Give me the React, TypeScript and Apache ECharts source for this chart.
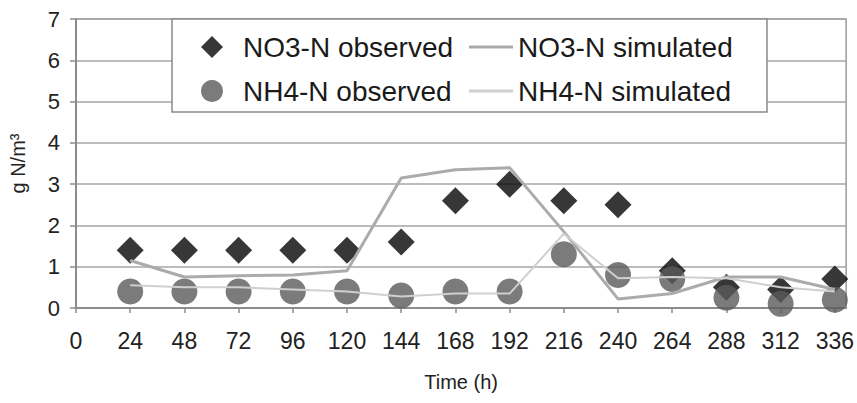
import React, { useEffect, useRef } from "react";
import * as echarts from "echarts";

const hours = [24, 48, 72, 96, 120, 144, 168, 192, 216, 240, 264, 288, 312, 336];
const no3Observed = [1.4, 1.4, 1.4, 1.4, 1.4, 1.6, 2.6, 3.0, 2.6, 2.5, 0.9, 0.5, 0.45, 0.7];
const nh4Observed = [0.4, 0.4, 0.4, 0.4, 0.4, 0.3, 0.4, 0.4, 1.3, 0.8, 0.7, 0.25, 0.1, 0.2];
const no3Simulated = [1.15, 0.75, 0.78, 0.8, 0.9, 3.15, 3.35, 3.4, 1.85, 0.22, 0.35, 0.75, 0.75, 0.45];
const nh4Simulated = [0.55, 0.5, 0.5, 0.45, 0.4, 0.28, 0.35, 0.35, 1.8, 0.72, 0.75, 0.72, 0.5, 0.4];
const seriesNames = ["NO3-N observed", "NO3-N simulated", "NH4-N observed", "NH4-N simulated"];

const FONT = "'Liberation Sans', Arial, sans-serif";

const pairs = (vals: number[]) => hours.map((h, i) => [h, vals[i]]);

export default function App() {
  const ref = useRef<HTMLDivElement>(null);
  useEffect(() => {
    if (!ref.current) return;
    const chart = echarts.init(ref.current, null, { renderer: "svg" });
    chart.setOption({
      animation: false,
      backgroundColor: "#ffffff",
      grid: {
        left: 74,
        right: 10,
        top: 19,
        bottom: 95,
        show: true,
        borderColor: "#9a9a9a",
        borderWidth: 1.5,
      },
      graphic: [
        {
          type: "rect",
          z: 3,
          shape: { x: 172, y: 19, width: 595, height: 93 },
          style: { fill: "#ffffff", stroke: "#8a8a8a", lineWidth: 1.5 },
        },
      ],
      legend: [
        {
          orient: "vertical",
          left: 196,
          top: 28,
          itemWidth: 22,
          itemHeight: 22,
          itemGap: 16,
          data: [
            { name: seriesNames[0], icon: "diamond" },
            { name: seriesNames[2], icon: "circle" },
          ],
          textStyle: {
            fontSize: 28,
            fontFamily: FONT,
            color: "#1a1a1a",
            padding: [0, 0, 0, 15],
          },
          z: 5,
        },
        {
          orient: "vertical",
          left: 464,
          top: 28,
          itemWidth: 44,
          itemHeight: 3,
          itemGap: 16,
          data: [
            { name: seriesNames[1], icon: "rect" },
            { name: seriesNames[3], icon: "rect" },
          ],
          textStyle: { fontSize: 28, fontFamily: FONT, color: "#1a1a1a" },
          z: 5,
        },
      ],
      xAxis: {
        type: "value",
        min: 0,
        max: 341,
        interval: 24,
        name: "Time (h)",
        nameLocation: "middle",
        nameGap: 64,
        nameTextStyle: { fontSize: 20, fontFamily: FONT, color: "#222" },
        axisLine: { show: true, lineStyle: { color: "#8c8c8c", width: 2 } },
        axisTick: { show: true, length: 5, lineStyle: { color: "#8c8c8c", width: 1.5 } },
        splitLine: { show: false },
        axisLabel: {
          fontSize: 23,
          fontFamily: FONT,
          color: "#222",
          margin: 21,
          showMaxLabel: false,
        },
      },
      yAxis: {
        type: "value",
        min: 0,
        max: 7,
        interval: 1,
        name: "g N/m³",
        nameLocation: "middle",
        nameGap: 48,
        nameRotate: 90,
        nameTextStyle: { fontSize: 20, fontFamily: FONT, color: "#222" },
        axisLine: { show: true, lineStyle: { color: "#8c8c8c", width: 2 } },
        axisTick: { show: true, length: 6, lineStyle: { color: "#8c8c8c", width: 1.5 } },
        splitLine: { show: true, lineStyle: { color: "#a6a6a6", width: 1.5 } },
        axisLabel: { fontSize: 22, fontFamily: FONT, color: "#222", margin: 16 },
      },
      series: [
        {
          name: seriesNames[0],
          type: "scatter",
          symbol: "diamond",
          symbolSize: 27,
          data: pairs(no3Observed),
          itemStyle: { color: "#050505" },
          z: 2,
        },
        {
          name: seriesNames[2],
          type: "scatter",
          symbol: "circle",
          symbolSize: 26,
          data: pairs(nh4Observed),
          itemStyle: { color: "#5a5a5a" },
          z: 2,
        },
        {
          name: seriesNames[1],
          type: "line",
          symbol: "none",
          data: pairs(no3Simulated),
          lineStyle: { color: "#ababab", width: 3 },
          itemStyle: { color: "#ababab" },
          z: 4,
        },
        {
          name: seriesNames[3],
          type: "line",
          symbol: "none",
          data: pairs(nh4Simulated),
          lineStyle: { color: "#cfcfcf", width: 2 },
          itemStyle: { color: "#cfcfcf" },
          z: 4,
        },
      ],
    });
    return () => chart.dispose();
  }, []);
  return (
    <div
      ref={ref}
      style={{ position: "fixed", left: 0, top: 0, width: 857, height: 403 }}
    />
  );
}
